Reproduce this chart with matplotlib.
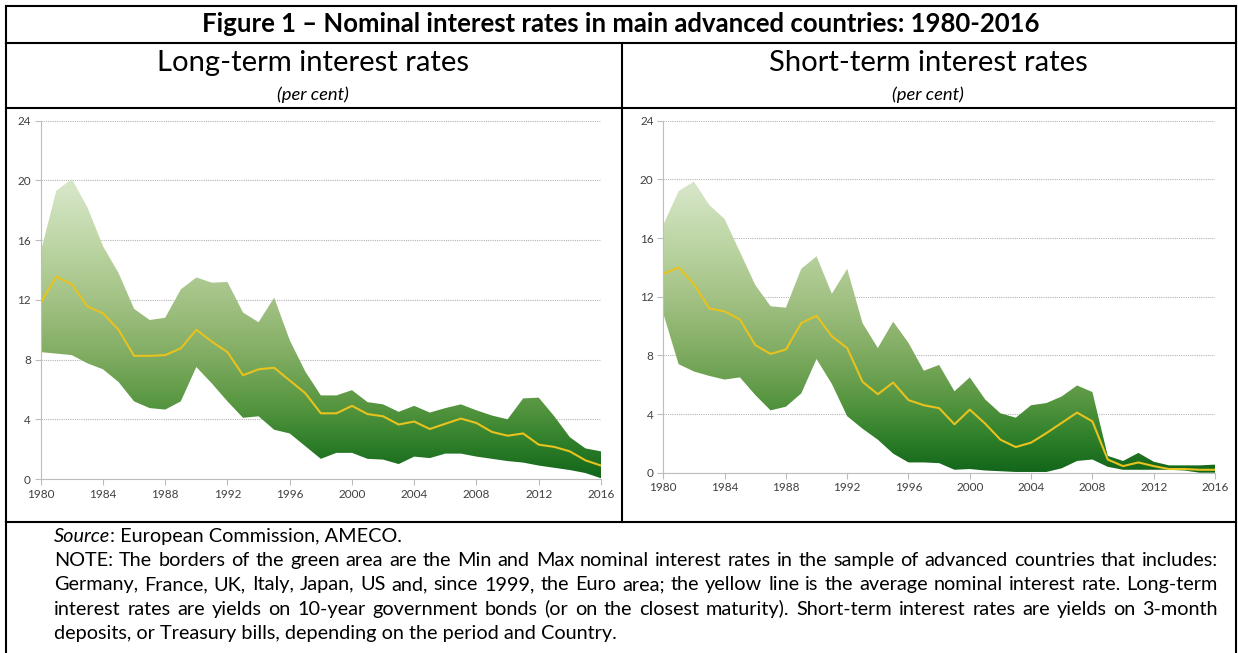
import matplotlib
matplotlib.use('Agg')
import matplotlib.pyplot as plt
import numpy as np
from matplotlib.colors import LinearSegmentedColormap
from matplotlib.lines import Line2D

plt.rcParams['font.family'] = ['Lato', 'DejaVu Sans']

W, H = 1238, 653

years = list(range(1980, 2017))

long_max = [15.2, 19.3, 20.1, 18.2, 15.6, 13.8, 11.4, 10.65, 10.8, 12.7,
            13.5, 13.15, 13.2, 11.15, 10.5, 12.15, 9.3, 7.2, 5.6, 5.6,
            5.95, 5.15, 5.0, 4.5, 4.9, 4.45, 4.75, 5.0, 4.6, 4.25,
            4.0, 5.4, 5.45, 4.2, 2.8, 2.05, 1.85]
long_min = [8.5, 8.4, 8.3, 7.75, 7.35, 6.5, 5.2, 4.75, 4.65, 5.2,
            7.5, 6.4, 5.2, 4.1, 4.2, 3.3, 3.05, 2.2, 1.35, 1.75,
            1.75, 1.35, 1.3, 1.0, 1.5, 1.4, 1.7, 1.7, 1.5, 1.35,
            1.2, 1.1, 0.9, 0.75, 0.6, 0.4, 0.05]
long_avg = [11.8, 13.55, 13.05, 11.55, 11.1, 10.0, 8.25, 8.25, 8.3, 8.75,
            10.0, 9.2, 8.5, 6.95, 7.35, 7.45, 6.6, 5.75, 4.4, 4.4,
            4.9, 4.35, 4.2, 3.65, 3.85, 3.35, 3.7, 4.05, 3.75, 3.15,
            2.9, 3.05, 2.3, 2.15, 1.85, 1.25, 0.9]

short_max = [16.9, 19.2, 19.85, 18.25, 17.3, 15.05, 12.8, 11.35, 11.25, 13.9,
             14.75, 12.2, 13.9, 10.2, 8.5, 10.3, 8.85, 6.95, 7.35, 5.55,
             6.5, 5.0, 4.05, 3.75, 4.6, 4.75, 5.2, 5.95, 5.5, 1.15,
             0.8, 1.35, 0.75, 0.5, 0.5, 0.5, 0.55]
short_min = [10.85, 7.4, 6.9, 6.6, 6.35, 6.5, 5.3, 4.25, 4.5, 5.4,
             7.75, 6.05, 3.85, 3.0, 2.25, 1.3, 0.7, 0.7, 0.65, 0.2,
             0.25, 0.15, 0.1, 0.05, 0.05, 0.05, 0.3, 0.8, 0.9, 0.4,
             0.2, 0.2, 0.2, 0.2, 0.15, 0.0, 0.0]
short_avg = [13.55, 14.0, 12.85, 11.2, 11.0, 10.45, 8.7, 8.1, 8.4, 10.2,
             10.7, 9.3, 8.5, 6.2, 5.35, 6.15, 4.95, 4.6, 4.4, 3.3,
             4.3, 3.35, 2.25, 1.75, 2.05, 2.7, 3.4, 4.1, 3.5, 0.9,
             0.45, 0.7, 0.45, 0.25, 0.25, 0.2, 0.2]

x_ticks = list(range(1980, 2017, 4))
y_ticks = list(range(0, 25, 4))

title = 'Figure 1 \u2013 Nominal interest rates in main advanced countries: 1980-2016'
sub_left = 'Long-term interest rates'
sub_right = 'Short-term interest rates'
unit = '(per cent)'
source_rest = ': European Commission, AMECO.'
note_lines = [
    'NOTE: The borders of the green area are the Min and Max nominal interest rates in the sample of advanced countries that includes:',
    'Germany, France, UK, Italy, Japan, US and, since 1999, the Euro area; the yellow line is the average nominal interest rate. Long-term',
    'interest rates are yields on 10-year government bonds (or on the closest maturity). Short-term interest rates are yields on 3-month',
    'deposits, or Treasury bills, depending on the period and Country.',
]

green = LinearSegmentedColormap.from_list('grn', [
    (0.0, '#12661a'), (0.1, '#2f7f2a'), (0.2, '#55953f'), (0.35, '#82ad63'),
    (0.5, '#a3c285'), (0.65, '#bcd5a3'), (0.8, '#d4e4c4'), (1.0, '#e6efdc')])


def px(x, y):
    return x / W, 1 - y / H


def line(x0, y0, x1, y1):
    fig.add_artist(Line2D([x0 / W, x1 / W], [1 - y0 / H, 1 - y1 / H],
                          color='black', lw=1.5, transform=fig.transFigure))


def draw_panel(ax, lo, hi, avg):
    poly = ax.fill_between(years, lo, hi, facecolor='none', edgecolor='none')
    grad = np.linspace(0, 24, 256).reshape(-1, 1)
    img = ax.imshow(grad, cmap=green, vmin=0, vmax=24, origin='lower',
                    extent=[1980, 2016, 0, 24], aspect='auto', zorder=2)
    img.set_clip_path(poly.get_paths()[0], transform=ax.transData)
    ax.plot(years, avg, color='#e8c21e', lw=1.5, zorder=3)
    ax.set_xlim(1980, 2016)
    ax.set_ylim(0, 24)
    ax.set_xticks(x_ticks)
    ax.set_yticks(y_ticks)
    ax.set_axisbelow(True)
    ax.yaxis.grid(True, linestyle=(0, (1, 1)), color='#b5b5b5', lw=0.8)
    for s in ['top', 'right']:
        ax.spines[s].set_visible(False)
    for s in ['left', 'bottom']:
        ax.spines[s].set_color('#bdbdbd')
        ax.spines[s].set_linewidth(0.8)
    ax.tick_params(length=4, color='#bdbdbd', labelcolor='#404040',
                   labelsize=8.5, pad=3)


fig = plt.figure(figsize=(W / 100, H / 100), dpi=100)
renderer = fig.canvas.get_renderer()

ax1 = fig.add_axes([40.7 / W, 1 - 479 / H, (601 - 40.7) / W, (479 - 120.7) / H])
ax2 = fig.add_axes([663.3 / W, 1 - 472.7 / H, (1215 - 663.3) / W, (472.7 - 120.7) / H])
draw_panel(ax1, long_min, long_max, long_avg)
draw_panel(ax2, short_min, short_max, short_avg)

# table borders
line(6, 6, 1236, 6)
line(6, 43, 1236, 43)
line(6, 108, 1236, 108)
line(6, 521.5, 1236, 521.5)
line(6, 6, 6, 653)
line(1236, 6, 1236, 653)
line(621.5, 43, 621.5, 521.5)


def fit_text(x, y, s, width, **kw):
    t = fig.text(*px(x, y), s, fontsize=10, ha='center', va='center', **kw)
    w = t.get_window_extent(renderer).width
    t.set_fontsize(10 * width / w)
    return t


fit_text(621, 24, title, 838, fontweight='bold')
t = fit_text(313, 63, sub_left, 312)
fig.text(*px(928, 63), sub_right, fontsize=t.get_fontsize(), ha='center', va='center')
t = fit_text(313, 95, unit, 72, style='italic')
fig.text(*px(928, 95), unit, fontsize=t.get_fontsize(), style='italic', ha='center', va='center')

# source and justified note
x_left, x_right = 54, 1218
probe = fig.text(0, 0, note_lines[0], fontsize=10)
nat = probe.get_window_extent(renderer).width
probe.remove()
body = 10 * (x_right - x_left) / nat * 0.985

base0 = 542
s1 = fig.text(*px(x_left, base0), 'Source', fontsize=body, style='italic', va='baseline')
w1 = s1.get_window_extent(renderer).width
fig.text(*px(x_left + w1, base0), source_rest, fontsize=body, va='baseline')

for i, ln in enumerate(note_lines):
    y = base0 + 24.2 * (i + 1)
    if i == len(note_lines) - 1:
        fig.text(*px(x_left, y), ln, fontsize=body, va='baseline')
        continue
    words = ln.split(' ')
    texts = [fig.text(0, 0, w, fontsize=body, va='baseline') for w in words]
    widths = [tx.get_window_extent(renderer).width for tx in texts]
    gap = (x_right - x_left - sum(widths)) / (len(words) - 1)
    xpos = x_left
    for tx, w in zip(texts, widths):
        tx.set_position(px(xpos, y))
        xpos += w + gap

fig.savefig('out.png', dpi=100)
